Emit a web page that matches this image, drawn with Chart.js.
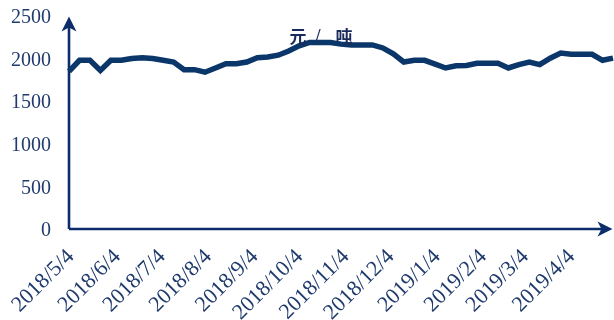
<!DOCTYPE html>
<html>
<head>
<meta charset="utf-8">
<script src="https://cdn.jsdelivr.net/npm/chart.js@4.4.1/dist/chart.umd.min.js"></script>
<style>
  html, body { margin: 0; padding: 0; background: #ffffff; }
  #wrap { width: 614px; height: 320px; position: relative; }
</style>
</head>
<body>
<div id="wrap"><canvas id="c" width="614" height="320"></canvas></div>
<script>
// Weekly price series (元/吨)
const weekDates = [
  '2018/5/4','2018/5/11','2018/5/18','2018/5/25',
  '2018/6/1','2018/6/8','2018/6/15','2018/6/22','2018/6/29',
  '2018/7/6','2018/7/13','2018/7/20','2018/7/27',
  '2018/8/3','2018/8/10','2018/8/17','2018/8/24','2018/8/31',
  '2018/9/7','2018/9/14','2018/9/21','2018/9/28',
  '2018/10/5','2018/10/12','2018/10/19','2018/10/26',
  '2018/11/2','2018/11/9','2018/11/16','2018/11/23','2018/11/30',
  '2018/12/7','2018/12/14','2018/12/21','2018/12/28',
  '2019/1/4','2019/1/11','2019/1/18','2019/1/25',
  '2019/2/1','2019/2/8','2019/2/15','2019/2/22',
  '2019/3/1','2019/3/8','2019/3/15','2019/3/22','2019/3/29',
  '2019/4/5','2019/4/12','2019/4/19','2019/4/26',
  '2019/5/3'
];
const priceValues = [
  1850, 1980, 1980, 1860,
  1980, 1980, 2000, 2010, 2000,
  1980, 1960, 1870, 1870,
  1840, 1890, 1940, 1940, 1960,
  2010, 2020, 2040, 2090,
  2150, 2190, 2190, 2190,
  2170, 2160, 2160, 2160, 2125,
  2055, 1960, 1980, 1980,
  1935, 1890, 1915, 1920,
  1945, 1945, 1945, 1890,
  1930, 1960, 1930, 2005, 2065,
  2050, 2050, 2050, 1980,
  2005
];
const monthTicks = [
  '2018/5/4','2018/6/4','2018/7/4','2018/8/4','2018/9/4','2018/10/4',
  '2018/11/4','2018/12/4','2019/1/4','2019/2/4','2019/3/4','2019/4/4'
];
const yTickValues = [0, 500, 1000, 1500, 2000, 2500];
const unitText = ['元', '/', '吨'];

const LINE_COLOR = '#0b3669';
const AXIS_COLOR = '#0c2c6a';
const TEXT_COLOR = '#1f3a6d';

// days elapsed since the first observation
function dayOf(s) {
  const [y, m, d] = s.split('/').map(Number);
  return Math.round((Date.UTC(y, m - 1, d) - Date.UTC(2018, 4, 4)) / 86400000);
}
const tickLabelByDay = {};
monthTicks.forEach(s => { tickLabelByDay[dayOf(s)] = s; });

const points = weekDates.map((d, i) => ({ x: dayOf(d), y: priceValues[i] }));

function arrowHead(ctx, tx, ty, dx, dy, len, half, notch) {
  const px = -dy, py = dx;
  ctx.beginPath();
  ctx.moveTo(tx, ty);
  ctx.lineTo(tx - dx * len + px * half, ty - dy * len + py * half);
  ctx.lineTo(tx - dx * notch, ty - dy * notch);
  ctx.lineTo(tx - dx * len - px * half, ty - dy * len - py * half);
  ctx.closePath();
  ctx.fill();
}

// axis lines with arrowheads and the unit caption
const axesPlugin = {
  id: 'arrowAxes',
  beforeDatasetsDraw(chart) {
    const { ctx, chartArea, scales } = chart;
    const ox = scales.x.getPixelForValue(0);
    const oy = scales.y.getPixelForValue(0);
    ctx.save();
    ctx.strokeStyle = AXIS_COLOR;
    ctx.fillStyle = AXIS_COLOR;
    ctx.lineWidth = 2.6;
    ctx.beginPath();
    ctx.moveTo(ox, oy);
    ctx.lineTo(ox, chartArea.top + 6);
    ctx.moveTo(ox, oy);
    ctx.lineTo(chartArea.right - 6, oy);
    ctx.stroke();
    arrowHead(ctx, ox, chartArea.top + 0.5, 0, -1, 15, 7.5, 11);
    arrowHead(ctx, chartArea.right - 0.5, oy, 1, 0, 15, 7.5, 11);
    ctx.restore();
  },
  afterDatasetsDraw(chart) {
    const { ctx, chartArea } = chart;
    const w = chartArea.right - chartArea.left;
    const cx = chartArea.left + w * 0.465;
    const cy = chartArea.top + 21;
    ctx.save();
    ctx.fillStyle = '#1b2c5c';
    ctx.textAlign = 'center';
    ctx.textBaseline = 'middle';
    ctx.font = 'bold 17px "Noto Sans CJK SC"';
    ctx.fillText(unitText[0], cx - 24, cy);
    ctx.font = 'bold 18px "Liberation Serif"';
    ctx.fillText(unitText[1], cx - 4, cy);
    ctx.font = 'bold 17px "Noto Sans CJK SC"';
    ctx.fillText(unitText[2], cx + 22, cy);
    ctx.restore();
  }
};

new Chart(document.getElementById('c'), {
  type: 'line',
  data: {
    datasets: [{
      data: points,
      borderColor: LINE_COLOR,
      borderWidth: 5.5,
      pointRadius: 0,
      tension: 0,
      fill: false,
      borderJoinStyle: 'miter',
      clip: 6
    }]
  },
  options: {
    responsive: false,
    animation: false,
    devicePixelRatio: 1,
    layout: { padding: { top: 16, right: 1, left: 0, bottom: 0 } },
    plugins: { legend: { display: false }, tooltip: { enabled: false }, title: { display: false } },
    scales: {
      x: {
        type: 'linear',
        min: 0,
        max: dayOf(weekDates[weekDates.length - 1]),
        grid: { display: false, drawTicks: false },
        border: { display: false },
        afterBuildTicks(scale) {
          scale.ticks = monthTicks.map(s => ({ value: dayOf(s) }));
        },
        afterFit(scale) {
          scale.height = 91;
          scale.paddingLeft = 0;
          scale.paddingRight = 0;
        },
        ticks: {
          autoSkip: false,
          minRotation: 45,
          maxRotation: 45,
          padding: 15,
          labelOffset: 2,
          color: TEXT_COLOR,
          font: { family: '"Liberation Serif"', size: 22 },
          callback: v => tickLabelByDay[v] || ''
        }
      },
      y: {
        min: 0,
        max: 2500,
        grid: { display: false, drawTicks: false },
        border: { display: false },
        afterBuildTicks(scale) {
          scale.ticks = yTickValues.map(v => ({ value: v }));
        },
        afterFit(scale) {
          scale.width = 69;
          scale.paddingTop = 0;
          scale.paddingBottom = 0;
        },
        ticks: {
          padding: 18,
          labelOffset: 2,
          color: TEXT_COLOR,
          font: { family: '"Liberation Serif"', size: 20 },
          callback: v => String(v)
        }
      }
    }
  },
  plugins: [axesPlugin]
});
</script>
</body>
</html>
